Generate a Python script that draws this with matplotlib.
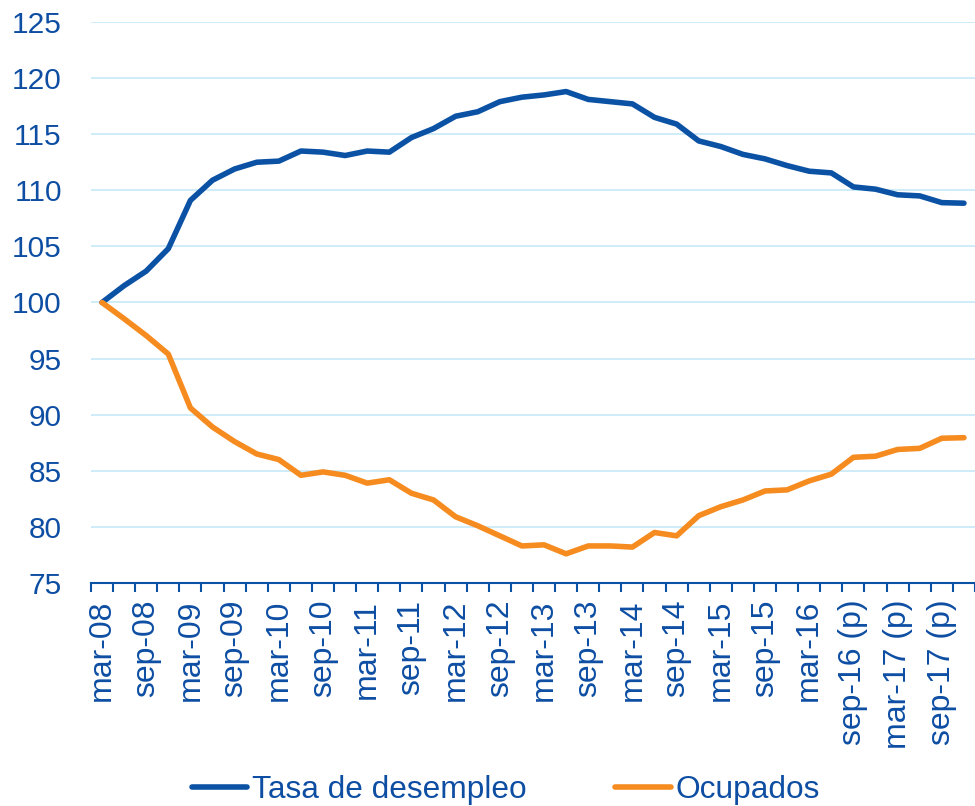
import numpy as np
import matplotlib
matplotlib.use("Agg")
import matplotlib.pyplot as plt
from matplotlib.ticker import FixedLocator, NullFormatter

plt.rcParams['font.family'] = ['Liberation Sans', 'DejaVu Sans']

# quarterly index, mar-08 = 100
quarters = []
for yr in range(8, 18):
    for m in ['mar', 'jun', 'sep', 'dic']:
        q = m + '-' + str(yr).zfill(2)
        if (yr == 16 and m in ('sep', 'dic')) or yr == 17:
            q += ' (p)'
        quarters.append(q)

desempleo = [100.0, 101.5, 102.8, 104.8, 109.1, 110.9, 111.9, 112.5, 112.6, 113.5,
             113.4, 113.1, 113.5, 113.4, 114.7, 115.5, 116.6, 117.0, 117.9, 118.3,
             118.5, 118.8, 118.1, 117.9, 117.7, 116.5, 115.9, 114.4, 113.9, 113.2,
             112.8, 112.2, 111.7, 111.55, 110.3, 110.1, 109.6, 109.5, 108.9, 108.85]

ocupados = [100.0, 98.55, 97.05, 95.4, 90.6, 88.9, 87.6, 86.5, 86.0, 84.6,
            84.9, 84.6, 83.9, 84.2, 83.0, 82.4, 80.9, 80.1, 79.2, 78.3,
            78.4, 77.6, 78.3, 78.3, 78.2, 79.5, 79.2, 81.0, 81.8, 82.4,
            83.2, 83.3, 84.1, 84.7, 86.2, 86.3, 86.9, 87.0, 87.9, 87.95]

blue = '#0B52A5'
orange = '#F68B1F'
txt = '#0D4EA3'

fig = plt.figure(figsize=(9.75, 8.06), dpi=100)
ax = fig.add_axes([0.0933, 0.2767, 0.9067, 0.696])

x = np.arange(len(quarters))
ax.plot(x, desempleo, color=blue, lw=4, solid_capstyle='round', label='Tasa de desempleo', zorder=3)
ax.plot(x, ocupados, color=orange, lw=4, solid_capstyle='round', label='Ocupados', zorder=3)

ax.set_xlim(-0.5, len(quarters) - 0.5)
ax.set_ylim(75, 125)
ax.set_yticks(np.arange(75, 126, 5))
ax.grid(axis='y', color='#CFECF8', lw=1.4, zorder=0)
ax.set_axisbelow(True)

ax.xaxis.set_major_locator(FixedLocator(x[::2]))
ax.set_xticklabels(quarters[::2], rotation=90, color=txt, fontsize=23)
ax.xaxis.set_minor_locator(FixedLocator(np.arange(-0.5, len(quarters), 1)))
ax.xaxis.set_minor_formatter(NullFormatter())
ax.tick_params(axis='x', which='major', length=0, pad=12)
ax.tick_params(axis='x', which='minor', length=6.5, width=1.5, color=blue, direction='out')
ax.tick_params(axis='y', length=0, pad=21, labelsize=21.5, labelcolor=txt)

for s in ['top', 'right', 'left']:
    ax.spines[s].set_visible(False)
ax.spines['bottom'].set_color(blue)
ax.spines['bottom'].set_linewidth(1.5)

leg = fig.legend(loc='center', bbox_to_anchor=(0.519, 0.02), ncol=2, frameon=False,
                 fontsize=22.8, handlelength=1.75, handletextpad=0.15, columnspacing=2.8,
                 borderpad=0)
for t in leg.get_texts():
    t.set_color(txt)
for h in leg.get_lines():
    h.set_linewidth(4)

fig.savefig('out.png', dpi=100)
